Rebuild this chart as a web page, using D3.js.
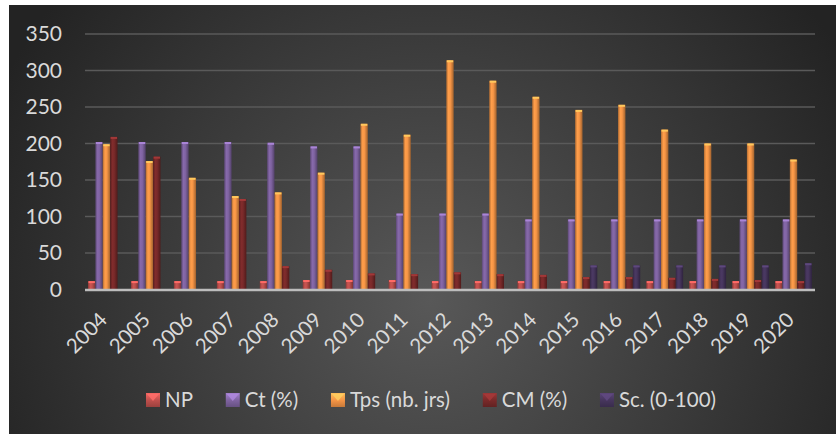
<!DOCTYPE html>
<html><head><meta charset="utf-8">
<script src="https://cdn.jsdelivr.net/npm/d3@7"></script>
<style>html,body{margin:0;padding:0;background:#fff;}svg{display:block;}</style>
</head><body>
<svg id="c" width="836" height="434"></svg>
<script>
const years = ["2004","2005","2006","2007","2008","2009","2010","2011","2012","2013","2014","2015","2016","2017","2018","2019","2020"];
const seriesNames = ["NP","Ct (%)","Tps (nb. jrs)","CM (%)","Sc. (0-100)"];
const npValues  = [11.5,11.5,11.5,11.5,11.5,13,13,13,11.5,11.5,11.5,11.5,11.5,11.5,11.5,11.5,11.5];
const ctValues  = [202,202,202,202,201,196,196,104,104,104,96,96,96,96,96,96,96];
const tpsValues = [199,176,153,128,133,160,227,212,314,286,264,246,253,219,200,200,178];
const cmValues  = [209,182,null,124,32,27,22,21,23.5,21,20,17,17,16,14.5,13,11.5];
const scValues  = [null,null,null,null,null,null,null,null,null,null,null,33,33,33,33,33,36];
const yTicks = [0,50,100,150,200,250,300,350];
const seriesColors = ["#c0504d","#8064a2","#f79646","#7a2a2a","#47365e"];

const allSeries = [npValues, ctValues, tpsValues, cmValues, scValues];
const svg = d3.select("#c");
const defs = svg.append("defs");
const font = "Lato, 'Open Sans', sans-serif";

// background
const bg = defs.append("radialGradient").attr("id","bg").attr("gradientUnits","userSpaceOnUse")
  .attr("cx",430).attr("cy",300).attr("r",480);
bg.append("stop").attr("offset","0%").attr("stop-color","#585858");
bg.append("stop").attr("offset","100%").attr("stop-color","#232323");
svg.append("rect").attr("x",9).attr("y",5).attr("width",827).attr("height",429).attr("fill","url(#bg)");

// bar gradients
seriesColors.forEach((c,i)=>{
  const g = defs.append("linearGradient").attr("id","g"+i).attr("x1","0").attr("x2","1").attr("y1","0").attr("y2","0");
  const base = d3.color(c);
  g.append("stop").attr("offset","0%").attr("stop-color", base.darker(0.9));
  g.append("stop").attr("offset","30%").attr("stop-color", base.brighter(0.15));
  g.append("stop").attr("offset","55%").attr("stop-color", base);
  g.append("stop").attr("offset","100%").attr("stop-color", base.darker(1.2));
});

const x0 = d3.scaleBand().domain(years).range([85,815]).paddingInner(0).paddingOuter(0);
const x1 = d3.scaleBand().domain(d3.range(5)).range([3, x0.bandwidth()-3]).padding(0);
const y = d3.scaleLinear().domain([0,350]).range([289.5,34]);

// gridlines
svg.append("g").selectAll("line").data(yTicks.filter(d=>d>0)).join("line")
  .attr("x1",85).attr("x2",815).attr("y1",d=>y(d)).attr("y2",d=>y(d))
  .attr("stroke","#5a5a5a").attr("stroke-width",1.5);

// y labels
svg.append("g").selectAll("text").data(yTicks).join("text")
  .attr("x",62).attr("y",d=>y(d)).attr("dy","0.35em").attr("text-anchor","end")
  .attr("fill","#d9d9d9").attr("font-family",font).attr("font-size",21).text(d=>d);

// bars
const gBars = svg.append("g");
allSeries.forEach((vals,si)=>{
  const data = years.map((yr,i)=>({yr, v: vals[i]})).filter(d=>d.v!=null);
  const g = gBars.append("g");
  g.selectAll("rect.b").data(data).join("rect").attr("class","b")
    .attr("x",d=>x0(d.yr)+x1(si)).attr("width",x1.bandwidth())
    .attr("y",d=>y(d.v)).attr("height",d=>y(0)-y(d.v))
    .attr("fill","url(#g"+si+")");
  g.selectAll("rect.t").data(data).join("rect").attr("class","t")
    .attr("x",d=>x0(d.yr)+x1(si)+0.5).attr("width",x1.bandwidth()-1)
    .attr("y",d=>y(d.v)).attr("height",2)
    .attr("fill", d3.color(seriesColors[si]).brighter(0.8));
});

// axis line
svg.append("line").attr("x1",85).attr("x2",815).attr("y1",y(0)+0.5).attr("y2",y(0)+0.5)
  .attr("stroke","#bdbdbd").attr("stroke-width",2.5);

// x labels
svg.append("g").selectAll("text").data(years).join("text")
  .attr("transform",d=>`translate(${x0(d)+x0.bandwidth()/2+2},321) rotate(-45)`)
  .attr("text-anchor","end").attr("fill","#d9d9d9").attr("font-family",font).attr("font-size",20.5).text(d=>d);

// legend
const leg = svg.append("g");
const its = [];
seriesNames.forEach((n,i)=>{
  const it = leg.append("g");
  const gr = defs.append("linearGradient").attr("id","lg"+i).attr("x1","0").attr("x2","0").attr("y1","0").attr("y2","1");
  const base = d3.color(seriesColors[i]);
  gr.append("stop").attr("offset","0%").attr("stop-color",base.brighter(0.7));
  gr.append("stop").attr("offset","50%").attr("stop-color",base);
  gr.append("stop").attr("offset","100%").attr("stop-color",base.darker(0.6));
  it.append("rect").attr("x",0).attr("y",393).attr("width",14).attr("height",14).attr("fill","url(#lg"+i+")");
  it.append("path").attr("d","M1,394 L13,394 L7,401 Z").attr("fill",base.brighter(0.9)).attr("opacity",0.8);
  const t = it.append("text").attr("x",19).attr("y",407).attr("fill","#d9d9d9")
    .attr("font-family",font).attr("font-size",20.5).text(n);
  its.push({it, w: 19 + t.node().getComputedTextLength()});
});
const sumW = d3.sum(its, d=>d.w);
const gap = (570 - sumW) / 4;
let cx = 146;
its.forEach(d=>{ d.it.attr("transform",`translate(${cx},0)`); cx += d.w + gap; });
</script>
</body></html>
